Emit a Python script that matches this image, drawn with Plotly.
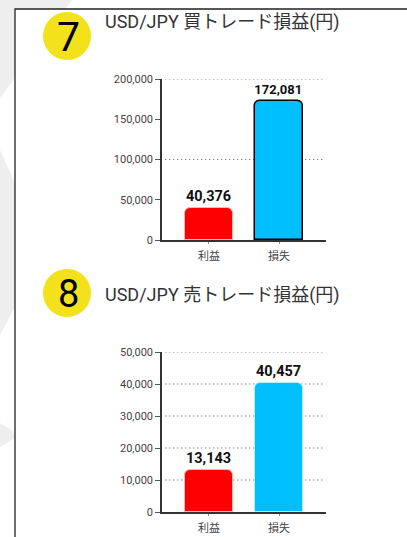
import plotly.graph_objects as go

W, H = 407, 537

categories = ["利益", "損失"]
buy_values = [40376, 172081]
sell_values = [13143, 40457]
buy_ticks = [0, 50000, 100000, 150000, 200000]
buy_grid = [100000, 200000]
sell_ticks = [0, 10000, 20000, 30000, 40000, 50000]
sell_grid = [10000, 20000, 30000, 40000, 50000]
titles = ["USD/JPY 買トレード損益(円)", "USD/JPY 売トレード損益(円)"]
badges = ["7", "8"]

bar_colors = ["#FE0000", "#00BFFF"]
FONT = "Roboto, 'Noto Sans CJK JP', sans-serif"


def X(px):
    return px / W


def Y(py):
    return 1 - py / H


fig = go.Figure()

charts = [
    dict(vals=buy_values, ticks=buy_ticks, grid=buy_grid, top=79, bottom=240,
         lines=["#ffb3b3", "#000000"], lw=[1, 1.5], xa="x", ya="y"),
    dict(vals=sell_values, ticks=sell_ticks, grid=sell_grid, top=352, bottom=512,
         lines=["#ffb3b3", "#b3ecff"], lw=[1, 1], xa="x2", ya="y2"),
]

shapes = []
# background decoration (behind panel)
deco = [
    [(0, 0), (72, 0), (0, 98)],
    [(0, 150), (45, 250), (0, 335)],
    [(0, 423), (13, 431), (15, 438), (0, 447)],
]
for poly in deco:
    path = "M " + " L ".join(f"{X(a)},{Y(b)}" for a, b in poly) + " Z"
    shapes.append(dict(type="path", xref="paper", yref="paper", path=path,
                       fillcolor="#eeeeee", line=dict(width=0), layer="below"))
# white panel with border
shapes.append(dict(type="rect", xref="paper", yref="paper", x0=X(15), x1=X(420),
                   y0=Y(560), y1=Y(9), fillcolor="white",
                   line=dict(color="#222222", width=1.3), layer="below"))

for i, c in enumerate(charts):
    fig.add_trace(go.Bar(
        x=categories, y=c["vals"], xaxis=c["xa"], yaxis=c["ya"],
        marker=dict(color=bar_colors, line=dict(color=c["lines"], width=c["lw"]),
                    cornerradius=6),
        width=0.68,
        texttemplate="%{y:,}", textposition="outside", cliponaxis=False,
        textfont=dict(family=FONT, size=14.5, color="#111111", weight="bold"),
        showlegend=False, hoverinfo="skip",
    ))
    axn = "" if i == 0 else "2"
    ymax = c["ticks"][-1]
    fig.layout["xaxis" + axn] = dict(
        domain=[X(162), X(326)], range=[-0.671, 1.671], anchor="y" + axn,
        showline=True, linecolor="#333333", linewidth=1.5,
        ticks="outside", ticklen=2, tickcolor="#888888",
        tickfont=dict(family=FONT, size=11, color="#444444"),
        ticklabelstandoff=3, showgrid=False, zeroline=False, fixedrange=True,
        automargin=False,
    )
    fig.layout["yaxis" + axn] = dict(
        domain=[Y(c["bottom"]), Y(c["top"])], range=[0, ymax], anchor="x" + axn,
        tickvals=c["ticks"], tickformat=",",
        showline=True, linecolor="#333333", linewidth=1.5,
        ticks="outside", ticklen=5, tickcolor="#555555",
        tickfont=dict(family=FONT, size=11, color="#444444"),
        showgrid=False, zeroline=False, fixedrange=True, automargin=False,
    )
    xd = "x" + axn + " domain"
    yr = "y" + axn
    for g in c["grid"]:
        shapes.append(dict(type="line", xref=xd, yref=yr, x0=0.02, x1=0.98, y0=g, y1=g,
                           line=dict(color="#555555", width=1.2, dash="1px,3px"), layer="below"))
    for xe in (0, 1):
        shapes.append(dict(type="line", xref=xd, yref=yr, x0=xe, x1=xe,
                           ysizemode="pixel", yanchor=0, y0=0, y1=-6,
                           line=dict(color="#333333", width=1.5)))

annotations = []
badge_centers = [(67, 36), (67, 293)]
title_y = [22, 295]
badge_sizes = [41, 38]
for i in range(2):
    cx, cy = badge_centers[i]
    shapes.append(dict(type="circle", xref="paper", yref="paper",
                       x0=X(cx - 24), x1=X(cx + 24), y0=Y(cy + 24), y1=Y(cy - 24),
                       fillcolor="#F3E21B", line=dict(width=0)))
    annotations.append(dict(xref="paper", yref="paper", x=X(cx + 1), y=Y(cy + 1),
                            text=badges[i], showarrow=False, xanchor="center", yanchor="middle",
                            font=dict(family=FONT, size=badge_sizes[i], color="#000000")))
    annotations.append(dict(xref="paper", yref="paper", x=X(103), y=Y(title_y[i]),
                            text=titles[i], showarrow=False, xanchor="left", yanchor="middle",
                            font=dict(family=FONT, size=18, color="#333333")))

fig.update_layout(
    width=W, height=H, autosize=False,
    margin=dict(l=0, r=0, t=0, b=0, pad=0, autoexpand=False),
    paper_bgcolor="white", plot_bgcolor="rgba(0,0,0,0)",
    shapes=shapes, annotations=annotations, bargap=0,
)

fig.write_html("out.html", post_script="document.body.style.margin='0';",
               config={"displayModeBar": False})
